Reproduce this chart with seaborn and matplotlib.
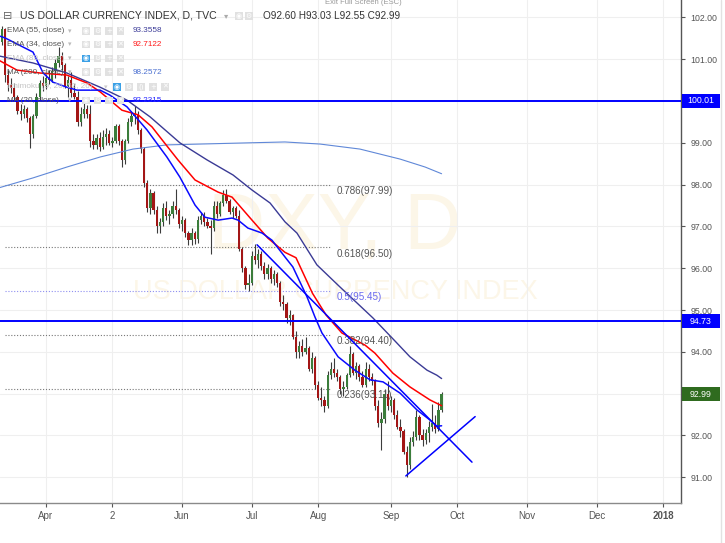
import numpy as np
import pandas as pd
import matplotlib
matplotlib.use("Agg")
import matplotlib.pyplot as plt
from matplotlib.patches import Rectangle
import seaborn as sns

# ---------------------------------------------------------------------------
# Data: TVC:DXY daily bars, 13 Mar 2017 - 25 Sep 2017 (one bar per weekday)
# ---------------------------------------------------------------------------

FIRST_BAR = "2017-03-13"
LAST_BAR = "2017-09-25"

opens = [101.30, 101.40, 101.72, 100.62, 100.38, 100.30, 100.10, 99.75, 99.68, 99.82,
         99.60, 99.22, 99.65, 100.10, 100.42, 100.35, 100.55, 100.50, 100.72, 100.92,
         101.08, 100.85, 100.35, 100.50, 100.20, 100.10, 99.50, 99.70, 99.82, 99.70,
         99.05, 98.95, 99.12, 98.90, 99.15, 99.22, 99.00, 99.05, 99.40, 99.05,
         98.60, 99.05, 99.50, 99.65, 99.70, 99.30, 98.85, 98.05, 97.45, 97.80,
         97.40, 97.00, 97.10, 97.45, 97.25, 97.30, 97.50, 97.40, 97.05, 97.15,
         96.85, 96.68, 96.85, 96.70, 97.15, 97.25, 97.10, 97.00, 96.95, 97.50,
         97.30, 97.55, 97.75, 97.60, 97.35, 97.45, 97.25, 96.45, 96.00, 95.60,
         95.65, 96.30, 96.20, 96.35, 96.05, 95.85, 96.00, 95.75, 95.85, 95.65,
         95.20, 95.15, 94.80, 94.88, 94.35, 94.00, 94.15, 94.00, 94.10, 93.60,
         93.85, 93.20, 92.90, 92.85, 92.70, 93.45, 93.60, 93.50, 93.40, 93.10,
         93.15, 93.45, 93.95, 93.50, 93.65, 93.40, 93.20, 93.60, 93.40, 93.30,
         92.70, 92.30, 92.40, 93.00, 92.70, 92.85, 92.50, 92.20, 92.10, 91.60,
         91.30, 91.85, 91.95, 92.45, 92.00, 91.90, 92.05, 92.20, 92.30, 92.15,
         92.60]
highs = [101.50, 101.80, 101.75, 100.75, 100.55, 100.42, 100.15, 99.92, 99.90, 99.86,
         99.65, 99.70, 100.20, 100.50, 100.60, 100.65, 100.75, 100.82, 101.00, 101.28,
         101.18, 100.90, 100.60, 100.70, 100.40, 100.25, 99.85, 99.95, 99.90, 99.90,
         99.20, 99.20, 99.25, 99.30, 99.35, 99.30, 99.15, 99.45, 99.45, 99.10,
         99.10, 99.60, 99.75, 99.88, 99.75, 99.35, 98.90, 98.10, 97.90, 97.85,
         97.50, 97.20, 97.55, 97.60, 97.40, 97.60, 97.90, 97.45, 97.25, 97.20,
         96.90, 96.95, 96.90, 97.25, 97.35, 97.35, 97.20, 97.15, 97.60, 97.60,
         97.60, 97.87, 97.90, 97.65, 97.50, 97.50, 97.40, 96.50, 96.05, 95.85,
         96.40, 96.58, 96.45, 96.40, 96.15, 96.10, 96.05, 95.95, 95.90, 95.70,
         95.35, 95.20, 95.00, 94.90, 94.50, 94.25, 94.30, 94.35, 94.15, 94.00,
         93.90, 93.30, 93.15, 92.95, 93.55, 93.75, 93.85, 93.60, 93.45, 93.30,
         93.50, 94.15, 94.00, 93.75, 93.70, 93.55, 93.75, 93.70, 93.50, 93.35,
         92.85, 92.55, 93.10, 93.30, 92.95, 92.90, 92.60, 92.40, 92.15, 91.75,
         91.95, 92.10, 92.60, 92.50, 92.15, 92.15, 92.35, 92.75, 92.50, 92.80,
         93.03]
lows = [101.15, 101.35, 100.45, 100.25, 100.20, 100.00, 99.70, 99.55, 99.60, 99.50,
        98.88, 99.12, 99.60, 100.00, 100.25, 100.28, 100.40, 100.45, 100.55, 100.82,
        100.75, 100.30, 100.10, 100.10, 100.05, 99.40, 99.40, 99.60, 99.60, 98.90,
        98.85, 98.85, 98.80, 98.85, 98.95, 98.95, 98.90, 99.00, 98.95, 98.42,
        98.50, 99.00, 99.40, 99.45, 99.20, 98.75, 97.95, 97.35, 97.30, 97.30,
        96.85, 96.85, 97.00, 97.15, 97.05, 97.20, 97.30, 96.95, 96.90, 96.75,
        96.55, 96.55, 96.58, 96.60, 97.05, 97.00, 96.95, 96.35, 96.90, 97.20,
        97.25, 97.50, 97.55, 97.30, 97.20, 97.20, 96.40, 95.90, 95.50, 95.45,
        95.60, 96.10, 96.00, 95.95, 95.75, 95.75, 95.65, 95.60, 95.55, 95.10,
        95.00, 94.70, 94.65, 94.30, 93.85, 93.85, 93.90, 93.95, 93.55, 93.50,
        93.10, 92.85, 92.70, 92.55, 92.65, 93.35, 93.40, 93.30, 93.00, 92.95,
        93.10, 93.40, 93.45, 93.35, 93.30, 93.15, 93.15, 93.30, 93.20, 92.60,
        92.20, 91.65, 92.30, 92.60, 92.55, 92.40, 92.15, 91.95, 91.55, 91.01,
        91.20, 91.75, 91.90, 91.90, 91.75, 91.80, 91.85, 92.10, 92.05, 92.10,
        92.55]
closes = [101.40, 101.72, 100.62, 100.38, 100.30, 100.10, 99.75, 99.68, 99.82, 99.60,
          99.22, 99.65, 100.10, 100.42, 100.35, 100.55, 100.50, 100.72, 100.92, 101.08,
          100.85, 100.35, 100.50, 100.20, 100.10, 99.50, 99.70, 99.82, 99.70, 99.05,
          98.95, 99.12, 98.90, 99.15, 99.22, 99.00, 99.05, 99.40, 99.05, 98.60,
          99.05, 99.50, 99.65, 99.70, 99.30, 98.85, 98.05, 97.45, 97.80, 97.40,
          97.00, 97.10, 97.45, 97.25, 97.30, 97.50, 97.40, 97.05, 97.15, 96.85,
          96.68, 96.85, 96.70, 97.15, 97.25, 97.10, 97.00, 96.95, 97.50, 97.30,
          97.55, 97.75, 97.60, 97.35, 97.45, 97.25, 96.45, 96.00, 95.60, 95.65,
          96.30, 96.20, 96.35, 96.05, 95.85, 96.00, 95.75, 95.85, 95.65, 95.20,
          95.15, 94.80, 94.88, 94.35, 94.00, 94.15, 94.00, 94.10, 93.60, 93.85,
          93.20, 92.90, 92.85, 92.70, 93.45, 93.60, 93.50, 93.40, 93.10, 93.15,
          93.45, 93.95, 93.50, 93.65, 93.40, 93.20, 93.60, 93.40, 93.30, 92.70,
          92.30, 92.40, 93.00, 92.70, 92.85, 92.50, 92.20, 92.10, 91.60, 91.30,
          91.85, 91.95, 92.45, 92.00, 91.90, 92.05, 92.20, 92.30, 92.15, 92.60,
          92.99]

# indicator lines (bar number, value)
ema55_x = [0, 10.9, 21.6, 32.1, 40.6, 47.9, 57.3, 65.9, 74.1, 80.1, 85.8, 90.5, 94.3,
           100.6, 107.9, 118.3, 125.0, 130.0, 135.4, 138.5, 140]
ema55_y = [101.08, 100.91, 100.67, 100.33, 100.02, 99.62, 99.00, 98.59, 98.23, 97.87,
           97.56, 97.11, 96.84, 96.08, 95.55, 94.81, 94.28, 93.88, 93.56, 93.44, 93.36]
ema34_x = [0, 5.8, 13.1, 21.6, 28.0, 32.1, 39.0, 44.1, 48.5, 51.7, 56.7, 62.1, 69.4,
           73.8, 80.1, 85.1, 90.5, 94.0, 99.2, 103.5, 108.5, 115.8, 118.9, 124.6,
           130.0, 136.3, 140]
ema34_y = [100.98, 100.74, 100.67, 100.62, 100.43, 100.22, 99.78, 99.67, 99.38, 99.07,
           98.59, 98.11, 97.82, 97.70, 97.15, 96.72, 96.38, 96.25, 95.40, 94.88, 94.45,
           94.16, 93.97, 93.49, 93.16, 92.85, 92.71]
ma20_x = [0.5, 2.05, 10.9, 14.1, 17.2, 21.6, 24.8, 32.1, 35.2, 40.6, 46.9, 53.2, 57.3,
          62.1, 65.2, 69.4, 73.8, 75.7, 78.8, 83.3, 86.4, 90.5, 93.0, 97.5, 100.0, 102.2,
          107.3, 112.6, 117.4, 121.5, 126.9, 132.2, 136.3, 138.5, 140]
ma20_y = [101.55, 101.51, 101.17, 100.67, 100.45, 100.33, 100.26, 100.26, 100.14, 99.86,
          99.31, 98.66, 98.18, 97.51, 97.22, 97.15, 97.20, 97.15, 96.96, 96.84, 96.67,
          96.27, 96.03, 95.31, 94.83, 94.45, 93.88, 93.56, 93.33, 93.28, 93.01, 92.61,
          92.37, 92.22, 92.23]
ma200_x = [0, 10.9, 21.6, 32.1, 42.5, 53.2, 63.7, 79.5, 90.5, 101.6, 114.2, 126.9, 134.8, 140]
ma200_y = [97.92, 98.16, 98.42, 98.66, 98.85, 98.95, 98.97, 99.00, 99.02, 98.97, 98.85,
           98.61, 98.42, 98.26]

# drawings
h_levels = [100.01, 94.73]
trend_down_x = [81.7, 149.6]
trend_down_y = [96.56, 91.36]
trend_up_x = [128.7, 150.6]
trend_up_y = [91.03, 92.45]
fib_ratios = ["0.786", "0.618", "0.5", "0.382", "0.236"]
fib_prices = [97.99, 96.50, 95.45, 94.40, 93.11]
fib_start, fib_end = 2, 104.7

last_close = 92.99
price_ticks = list(range(91, 103))
month_dates = ["2017-04-03", "2017-05-02", "2017-06-01", "2017-07-03", "2017-08-01",
               "2017-09-01", "2017-10-02", "2017-11-01", "2017-12-01", "2018-01-01"]
month_labels = ["Apr", "2", "Jun", "Jul", "Aug", "Sep", "Oct", "Nov", "Dec", "2018"]

legend_rows = [("EMA (55, close)", "93.3558", "#3d3d99", False),
               ("EMA (34, close)", "92.7122", "#ff1a1a", False),
               ("EMA (89, close)", "", "#cccccc", True),
               ("MA (200, close)", "98.2572", "#4a6fd0", False),
               ("Ichimoku (9, 26, 52, 26)", "", "#cccccc", True),
               ("MA (20, close)", "92.2315", "#2a2aff", False)]

# ---------------------------------------------------------------------------
# Style
# ---------------------------------------------------------------------------

GREEN = "#3b7d3b"
RED = "#a31616"
WICK = "#3c3c3c"
NAVY = "#3a3a95"
EMA_RED = "#ff0000"
BLUE = "#0a0aff"
MA200_COL = "#6088d8"
WATERMARK = "#fcf6e8"

sns.set_theme(style="white")
plt.rcParams["font.family"] = ["Liberation Sans", "DejaVu Sans"]

W, H = 725, 543


def fx(x):
    return x / W


def fy(y):
    return 1 - y / H


fig = plt.figure(figsize=(7.25, 5.43), dpi=100)
fig.patch.set_facecolor("white")
ax = fig.add_axes([0, 40 / H, 681 / W, 503 / H])
ax.set_facecolor("white")

# ---------------------------------------------------------------------------
# Candles
# ---------------------------------------------------------------------------

calendar = pd.bdate_range(FIRST_BAR, "2018-01-05")
bars = pd.bdate_range(FIRST_BAR, LAST_BAR)
idx = np.arange(len(bars))
o = np.array(opens)
c = np.array(closes)
colors = np.where(c >= o, GREEN, RED)

ax.vlines(idx, lows, highs, color=WICK, lw=0.8, zorder=2)
ax.bar(idx, np.maximum(np.abs(c - o), 0.025), bottom=np.minimum(o, c), width=0.72,
       color=colors, linewidth=0, zorder=2.5)

# moving averages
for xs, ys, col, lw in [(ma200_x, ma200_y, MA200_COL, 0.8),
                        (ema55_x, ema55_y, NAVY, 1.0),
                        (ema34_x, ema34_y, EMA_RED, 1.1),
                        (ma20_x, ma20_y, BLUE, 1.1)]:
    sns.lineplot(x=xs, y=ys, ax=ax, color=col, lw=lw, sort=False, estimator=None,
                 legend=False, zorder=3)

# fibonacci levels
for r, p in zip(fib_ratios, fib_prices):
    col = "#8f8ff0" if r == "0.5" else "#777777"
    ax.hlines(p, fib_start, fib_end, colors=col, linestyles=(0, (1, 1.6)), lw=0.8, zorder=1.5)
    ax.text(fib_end + 2.2, p - 0.03, f"{r}({p:.2f})", fontsize=7.1, va="top", ha="left",
            color="#6a6aee" if r == "0.5" else "#555555", zorder=4)

# horizontal levels and trend lines
for lv in h_levels:
    ax.axhline(lv, color="#0000ff", lw=1.4, zorder=4)
ax.plot(trend_down_x, trend_down_y, color="#0000ff", lw=1.1, zorder=4)
ax.plot(trend_up_x, trend_up_y, color="#0000ff", lw=1.1, zorder=4)

# watermark
ax.text(0.492, 0.545, "DXY, D", transform=ax.transAxes, fontsize=57, color=WATERMARK,
        ha="center", va="center", zorder=0)
ax.text(0.492, 0.419, "US DOLLAR CURRENCY INDEX", transform=ax.transAxes, fontsize=19.5,
        color=WATERMARK, ha="center", va="center", zorder=0)

# ---------------------------------------------------------------------------
# Axes
# ---------------------------------------------------------------------------

ax.set_xlim(1.5 / 3.165, 682.5 / 3.165)
ax.set_ylim(100 - 402 / 41.8, 100 + 101 / 41.8)

tick_pos = calendar.get_indexer(pd.to_datetime(month_dates))
ax.set_xticks(tick_pos)
ax.set_xticklabels(month_labels)
ax.get_xticklabels()[-1].set_fontweight("bold")
ax.yaxis.tick_right()
ax.set_yticks(price_ticks)
# 100.00 sits under the 100.01 level tag
ax.set_yticklabels(["" if v == 100 else f"{v:.2f}" for v in price_ticks])
ax.tick_params(axis="y", colors="#555555", labelsize=6.3, length=3, width=0.8,
               direction="out", pad=4, right=True)
ax.tick_params(axis="x", colors="#555555", labelsize=7, length=3, width=0.8,
               direction="out", pad=3, bottom=True)
ax.grid(True, color="#efefef", lw=0.8)
ax.set_axisbelow(True)
for side in ["top", "left"]:
    ax.spines[side].set_visible(False)
ax.spines["right"].set_color("#555555")
ax.spines["right"].set_linewidth(1.0)
ax.spines["bottom"].set_color("#8a8a8a")
ax.spines["bottom"].set_linewidth(1.0)
ax.set_xlabel("")
ax.set_ylabel("")

# price labels on the right axis
ytr = ax.get_yaxis_transform()
half = 7 / 41.8
for val, face in [(100.01, "#0000ff"), (94.73, "#0000ff"), (last_close, "#2f6b1f")]:
    ax.add_patch(Rectangle((1.0015, val - half), 38 / 681, 2 * half, transform=ytr,
                           facecolor=face, edgecolor="none", clip_on=False, zorder=5))
    ax.text(1.0015 + 19 / 681, val, f"{val:.2f}", transform=ytr, color="white",
            fontsize=6.3, ha="center", va="center", zorder=6, clip_on=False)

# right border of the panel
fig.add_artist(plt.Line2D([fx(721), fx(721)], [0, 1], color="#e2e2e2", lw=1.0))

# ---------------------------------------------------------------------------
# Header and indicator legend
# ---------------------------------------------------------------------------


def icon(x, y, face="#e1e1e1", glyph=""):
    fig.add_artist(Rectangle((fx(x), fy(y + 3.8)), 7.5 / W, 7.5 / H,
                             transform=fig.transFigure, facecolor=face,
                             edgecolor="none", zorder=10))
    if glyph:
        fig.text(fx(x + 3.75), fy(y), glyph, fontsize=5, color="white",
                 ha="center", va="center", zorder=11, family=["DejaVu Sans"])


fig.text(fx(325), fy(3), "Exit Full Screen (ESC)", fontsize=5.5, color="#999999",
         va="center", ha="left")

ty = 16
fig.text(fx(3), fy(ty), "\u229f", fontsize=8, color="#666666", va="center",
         family=["DejaVu Sans"])
fig.text(fx(20), fy(ty), "US DOLLAR CURRENCY INDEX, D, TVC", fontsize=7.6,
         color="#333333", va="center")
fig.text(fx(224), fy(ty), "\u25be", fontsize=6, color="#aaaaaa", va="center",
         family=["DejaVu Sans"])
icon(235, ty, glyph="\u25c9")
icon(245, ty, glyph="\u2699")
fig.text(fx(263), fy(ty), "O92.60 H93.03 L92.55 C92.99", fontsize=7.2,
         color="#333333", va="center")

row_y = [30.7, 44.3, 58.3, 72.0, 86.7, 100.3]
for (name, value, vcol, hidden), y in zip(legend_rows, row_y):
    fig.text(fx(7), fy(y), name, fontsize=5.9, color="#c4c4c4" if hidden else "#555555",
             va="center", zorder=10)
    if name.startswith("Ichimoku"):
        fig.text(fx(104), fy(y), "\u25be", fontsize=5, color="#cccccc", va="center",
                 family=["DejaVu Sans"], zorder=10)
        xs = [113, 125, 137, 149, 161]
        glyphs = ["\u25c9", "\u2699", "()", "+", "\u2715"]
    else:
        fig.text(fx(68), fy(y), "\u25be", fontsize=5, color="#bbbbbb", va="center",
                 family=["DejaVu Sans"], zorder=10)
        xs = [82, 93.5, 105, 116.5]
        glyphs = ["\u25c9", "\u2699", "+", "\u2715"]
    for i, (bx, g) in enumerate(zip(xs, glyphs)):
        icon(bx, y, face="#3aa0e6" if (hidden and i == 0) else "#e1e1e1", glyph=g)
    if value:
        fig.text(fx(133), fy(y), value, fontsize=5.9, color=vcol, va="center", zorder=10)

fig.savefig("out.png", dpi=100)
